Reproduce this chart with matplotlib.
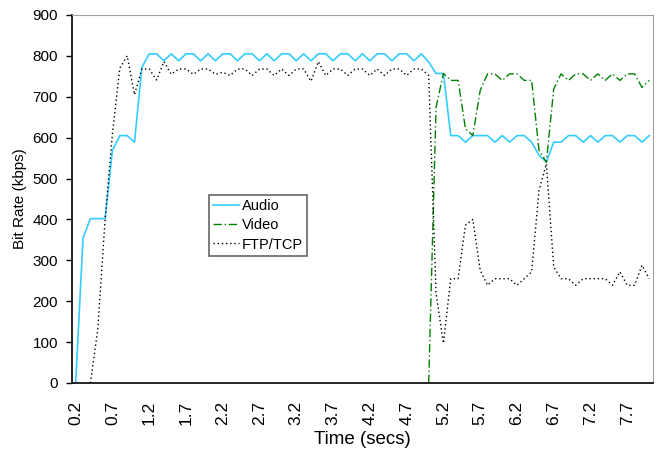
# ----------------------------------------
# Import Required Libraries
# ----------------------------------------
import matplotlib
matplotlib.use("Agg")
import matplotlib.pyplot as plt

plt.rcParams['font.family'] = ['Liberation Sans', 'DejaVu Sans']

# ----------------------------------------
# Data, one sample every 0.1 s
# ----------------------------------------
times = [round(0.2 + 0.1 * k, 1) for k in range(79)]

audio = [0, 355, 402, 402, 402, 569, 605, 605, 589, 772,
         805, 805, 788, 805, 788, 805, 805, 788, 805, 788,
         805, 805, 788, 805, 805, 788, 805, 788, 805, 805,
         788, 805, 788, 805, 805, 788, 805, 805, 788, 805,
         788, 805, 805, 788, 805, 805, 788, 805, 785, 757,
         757, 605, 605, 589, 605, 605, 605, 589, 605, 589,
         605, 605, 589, 557, 540, 589, 589, 605, 605, 589,
         605, 589, 605, 605, 589, 605, 605, 589, 605]

# video starts at 5.0 s
video_start = 48
video = [0, 674, 757, 740, 740, 622, 605, 715, 756, 756,
         740, 756, 756, 740, 740, 569, 540, 719, 756, 740,
         756, 756, 740, 756, 740, 756, 740, 756, 756, 723,
         740]

# ftp starts at 0.4 s
ftp_start = 2
ftp = [0, 130, 400, 610, 770, 800, 705, 768,
       768, 741, 786, 755, 768, 768, 755, 768, 768, 755,
       760, 752, 768, 768, 752, 768, 768, 752, 768, 752,
       768, 768, 738, 786, 752, 768, 768, 752, 768, 768,
       752, 768, 752, 768, 768, 752, 768, 768, 752, 220,
       97, 255, 255, 386, 400, 276, 239, 255, 255, 255,
       239, 255, 272, 471, 536, 284, 255, 255, 239, 255,
       255, 255, 255, 239, 272, 239, 239, 288, 255]

tick_labels = ["0.2", "0.7", "1.2", "1.7", "2.2", "2.7", "3.2", "3.7",
               "4.2", "4.7", "5.2", "5.7", "6.2", "6.7", "7.2", "7.7"]

# ----------------------------------------
# Figure Setup
# ----------------------------------------
fig = plt.figure(figsize=(6.57, 4.50), dpi=100)
ax = fig.add_axes([0.1096, 0.1489, 0.8843, 0.8178])

ax.plot(times, audio, color="#33CCFF", linewidth=1.2, label="Audio")
ax.plot(times[video_start:], video, color="#008000", linewidth=1.0,
        linestyle=(0, (6, 2, 1, 2)), label="Video")
ax.plot(times[ftp_start:], ftp, color="black", linewidth=1.0,
        linestyle=(0, (1, 2)), label="FTP/TCP")

# ----------------------------------------
# Axes Styling
# ----------------------------------------
ax.set_xlim(0.15, 8.05)
ax.set_ylim(0, 900)
ax.set_yticks(range(0, 901, 100))
ax.set_xticks([float(t) for t in tick_labels])
ax.set_xticklabels(tick_labels, rotation=90, fontsize=12.5)
ax.tick_params(axis="x", length=0, pad=13)
ax.tick_params(axis="y", direction="out", length=4, width=1, labelsize=11, pad=6)

for side in ["top", "right"]:
    ax.spines[side].set_color("#A0A0A0")
for side in ["left", "bottom"]:
    ax.spines[side].set_color("black")
    ax.spines[side].set_linewidth(1.2)

ax.set_xlabel("Time (secs)", fontsize=13.5, labelpad=4)
ax.set_ylabel("Bit Rate (kbps)", fontsize=11, labelpad=4)

# ----------------------------------------
# Legend (box placed inside the plot area)
# ----------------------------------------
leg = ax.legend(loc="upper left", bbox_to_anchor=(0.236, 0.511), fontsize=10.5,
                frameon=True, fancybox=False, handlelength=1.75,
                borderpad=0.3, labelspacing=0.35, handletextpad=0.2,
                borderaxespad=0)
leg.get_frame().set_edgecolor("#404040")
leg.get_frame().set_linewidth(1.2)

fig.savefig("out.png", dpi=100)
